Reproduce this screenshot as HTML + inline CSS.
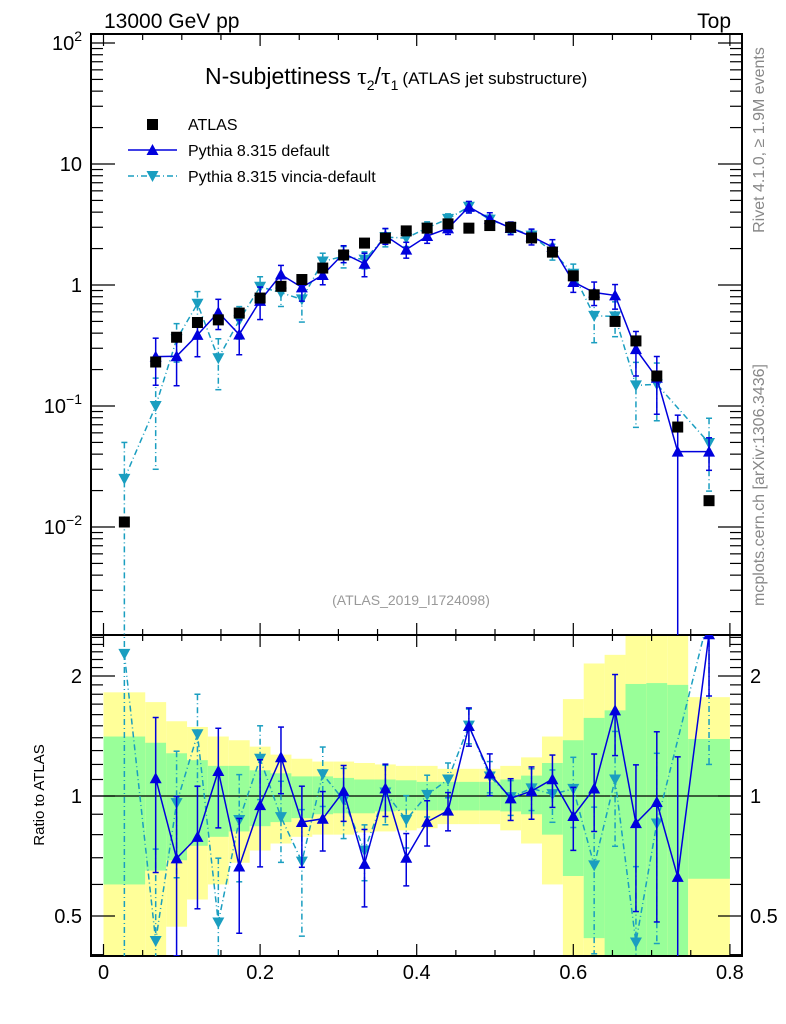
<!DOCTYPE html>
<html><head><meta charset="utf-8"><style>
html,body{margin:0;padding:0;background:#fff;width:786px;height:1024px;overflow:hidden}
svg{display:block;font-family:"Liberation Sans",sans-serif}
</style></head><body>
<svg id="c" width="786" height="1024" viewBox="0 0 786 1024" xmlns="http://www.w3.org/2000/svg">
<defs>
<clipPath id="cm"><rect x="91" y="34" width="651" height="601"/></clipPath>
<clipPath id="cr"><rect x="91" y="635" width="651" height="321"/></clipPath>
</defs>
<g id="bands" clip-path="url(#cr)"></g>
<g id="grid"></g>
<g id="mainMarks" clip-path="url(#cm)"></g>
<g id="ratioMarks" clip-path="url(#cr)"></g>
<text x="104" y="28" font-size="21">13000 GeV pp</text>
<text x="731" y="28" font-size="21" text-anchor="end">Top</text>
<text x="205" y="84" font-size="23">N-subjettiness <tspan font-family="Liberation Serif" font-size="24">τ</tspan><tspan font-size="14" dy="6">2</tspan><tspan dy="-6">/</tspan><tspan font-family="Liberation Serif" font-size="24">τ</tspan><tspan font-size="14" dy="6">1</tspan><tspan font-size="17" dy="-6" dx="4">(ATLAS jet substructure)</tspan></text>
<g>
<rect x="147" y="119" width="11" height="11" fill="#000"/>
<text x="188" y="130" font-size="16">ATLAS</text>
<line x1="128" y1="150" x2="177" y2="150" stroke="#0000dd" stroke-width="1.5"/>
<polygon points="146.5,155 152.5,144 158.5,155" fill="#0000dd"/>
<text x="188" y="156" font-size="16">Pythia 8.315 default</text>
<line x1="128" y1="176" x2="177" y2="176" stroke="#1a9ec0" stroke-width="1.5" stroke-dasharray="6,3,1,3"/>
<polygon points="146.5,171 158.5,171 152.5,182" fill="#1a9ec0"/>
<text x="188" y="182" font-size="16">Pythia 8.315 vincia-default</text>
</g>
<text x="411" y="605" font-size="14" fill="#999" text-anchor="middle">(ATLAS_2019_I1724098)</text>
<text transform="translate(764,140) rotate(-90)" font-size="16" fill="#888" text-anchor="middle">Rivet 4.1.0, ≥ 1.9M events</text>
<text transform="translate(764,485) rotate(-90)" font-size="16" fill="#888" text-anchor="middle">mcplots.cern.ch [arXiv:1306.3436]</text>
<text transform="translate(44,795) rotate(-90)" font-size="15" text-anchor="middle">Ratio to ATLAS</text>
</svg>
<script>
const edges=[0,0.0533,0.08,0.1067,0.1333,0.16,0.1867,0.2133,0.24,0.2667,0.2933,0.32,0.3467,0.3733,0.40,0.4267,0.4533,0.48,0.5067,0.5333,0.56,0.5867,0.6133,0.64,0.6667,0.6933,0.72,0.7467,0.80];
const atlas=[0.011,0.231,0.37,0.49,0.515,0.586,0.78,0.975,1.11,1.38,1.77,2.22,2.44,2.8,2.95,3.2,2.95,3.1,3.0,2.45,1.87,1.19,0.83,0.50,0.345,0.177,0.067,0.0165];
const pyDef=[null,0.256,0.258,0.387,0.595,0.39,0.74,1.22,0.955,1.21,1.82,1.50,2.55,1.96,2.54,2.94,4.42,3.53,2.96,2.52,2.06,1.06,0.867,0.82,0.295,0.171,0.042,0.042];
const pyDefErr=[0,0.42,0.43,0.34,0.28,0.32,0.3,0.19,0.23,0.17,0.16,0.22,0.15,0.15,0.13,0.11,0.11,0.12,0.12,0.15,0.15,0.18,0.22,0.23,0.40,0.5,1.0,0.3];
const pyVin=[0.025,0.10,0.355,0.70,0.248,0.51,0.967,0.863,0.76,1.565,1.73,1.62,2.49,2.44,2.97,3.52,4.43,3.47,2.98,2.56,1.89,1.24,0.556,0.55,0.148,0.151,null,0.0495];
const pyVinErr=[1.0,0.7,0.35,0.26,0.45,0.3,0.21,0.23,0.35,0.17,0.2,0.16,0.17,0.15,0.12,0.1,0.1,0.09,0.1,0.12,0.15,0.2,0.4,0.32,0.55,0.5,0,0.6];
const totHi=[1.82,1.72,1.54,1.49,1.41,1.38,1.33,1.27,1.24,1.22,1.22,1.21,1.20,1.19,1.19,1.17,1.17,1.17,1.19,1.25,1.41,1.75,2.15,2.26,3,3,3,1.77];
const totLo=[0.3,0.3,0.47,0.55,0.60,0.68,0.73,0.76,0.79,0.80,0.80,0.81,0.815,0.82,0.83,0.85,0.85,0.85,0.82,0.76,0.60,0.3,0.3,0.3,0.3,0.3,0.3,0.3];
const statHi=[1.41,1.36,1.28,1.23,1.19,1.19,1.16,1.14,1.12,1.12,1.11,1.10,1.10,1.095,1.085,1.085,1.085,1.085,1.10,1.125,1.21,1.38,1.57,1.64,1.91,1.92,1.9,1.39];
const statLo=[0.60,0.65,0.69,0.75,0.79,0.815,0.84,0.86,0.88,0.90,0.905,0.905,0.915,0.92,0.92,0.92,0.92,0.92,0.915,0.90,0.80,0.63,0.44,0.3,0.3,0.3,0.3,0.62];
const xTicks=[0,0.2,0.4,0.6,0.8];
const xTickLabels=["0","0.2","0.4","0.6","0.8"];
const yMainTicks=[2,1,0,-1,-2];
const yRatioTicks=[2,1,0.5];
const yRatioLabels=["2","1","0.5"];

const NS="http://www.w3.org/2000/svg";
const X0=103.5,XS=783;
const sx=v=>X0+v*XS;
const L=91,R=742,T=34,MB=635,RB=956;
const clampY=(y,a,b)=>Math.max(a,Math.min(b,y));
const syM=v=>clampY(285-121*Math.log10(v),T-20,MB+20);
const syR=v=>clampY(796-120*Math.log2(v),MB-20,RB+4);
function mk(tag,at,parent){const e=document.createElementNS(NS,tag);for(const k in at)e.setAttribute(k,at[k]);parent.appendChild(e);return e;}
const g=document.getElementById('grid'),bands=document.getElementById('bands'),mm=document.getElementById('mainMarks'),rm=document.getElementById('ratioMarks');

for(let i=0;i<atlas.length;i++){
 const x1=sx(edges[i]),x2=sx(edges[i+1]);
 const y=mk('rect',{x:x1,y:syR(totHi[i]),width:x2-x1,height:syR(totLo[i])-syR(totHi[i]),fill:'#ffff99'},bands);
 
 
 const gr=mk('rect',{x:x1,y:syR(statHi[i]),width:x2-x1,height:syR(statLo[i])-syR(statHi[i]),fill:'#99ff99'},bands);
 
 
}
mk('rect',{x:L,y:T,width:R-L,height:MB-T,fill:'none',stroke:'#000','stroke-width':2},g);
mk('rect',{x:L,y:MB,width:R-L,height:RB-MB,fill:'none',stroke:'#000','stroke-width':2},g);
mk('line',{x1:L,y1:796,x2:R,y2:796,stroke:'#000','stroke-width':1.3},g);
for(let v=0;v<=0.8001;v+=0.05){
 const x=sx(v),maj=Math.abs(v*10-Math.round(v*10))<1e-6&&Math.round(v*10)%2===0;
 const len=maj?12:6;
 [[T,1],[MB,-1],[MB,1],[RB,-1]].forEach(([y0,d])=>mk('line',{x1:x,y1:y0,x2:x,y2:y0+d*len,stroke:'#000','stroke-width':1.2},g));
}
xTicks.forEach((v,i)=>{const t=mk('text',{x:sx(v),y:979,'font-size':20,'text-anchor':'middle'},g);t.textContent=xTickLabels[i];
 
 });
for(let d=-3;d<=2;d++){for(let m=1;m<=9;m++){const v=m*Math.pow(10,d);const y=285-121*Math.log10(v);if(y<T||y>MB)continue;const len=m===1?24:12;
 mk('line',{x1:L,y1:y,x2:L+len,y2:y,stroke:'#000','stroke-width':1.2},g);mk('line',{x1:R,y1:y,x2:R-len,y2:y,stroke:'#000','stroke-width':1.2},g);}}
yMainTicks.forEach(p=>{const y=syM(Math.pow(10,p));let t;
 if(p===1||p===0){t=mk('text',{x:82,y:y+7,'font-size':20,'text-anchor':'end'},g);t.textContent=p===1?'10':'1';}
 else{t=mk('text',{x:82,y:y+7,'font-size':20,'text-anchor':'end'},g);const a=document.createElementNS(NS,'tspan');a.textContent='10';t.appendChild(a);const b=document.createElementNS(NS,'tspan');b.setAttribute('font-size','14');b.setAttribute('dy','-9');b.textContent=String(p).replace('-','−');t.appendChild(b);}
 
 });
const rmin=[0.4,0.5,0.6,0.7,0.8,0.9,1,1.1,1.2,1.3,1.4,1.5,1.6,1.7,1.8,1.9,2,2.1,2.2,2.3,2.4,2.5];
rmin.forEach(v=>{const y=796-120*Math.log2(v);if(y<MB||y>RB)return;const maj=(v===0.5||v===1||v===2);const len=maj?24:12;
 mk('line',{x1:L,y1:y,x2:L+len,y2:y,stroke:'#000','stroke-width':1.2},g);mk('line',{x1:R,y1:y,x2:R-len,y2:y,stroke:'#000','stroke-width':1.2},g);});
yRatioTicks.forEach((v,i)=>{const y=syR(v);
 const t=mk('text',{x:82,y:y+7,'font-size':20,'text-anchor':'end'},g);t.textContent=yRatioLabels[i];
 
 
 const t2=mk('text',{x:750,y:y+7,'font-size':20},g);t2.textContent=yRatioLabels[i];
 
 });

const cen=i=>(edges[i]+edges[i+1])/2;
function series(vals,errs,color,dash,up,parent,sy,ratio,name,bottom){
 let d='';
 const pts=[];
 for(let i=0;i<vals.length;i++){if(vals[i]==null)continue;let v=ratio?vals[i]/atlas[i]:vals[i];pts.push([sx(cen(i)),sy(v),v,errs[i]]);}
 pts.forEach((p,k)=>{d+=(k?'L':'M')+p[0].toFixed(1)+','+p[1].toFixed(1);});
 const pl=mk('path',{d:d,fill:'none',stroke:color,'stroke-width':1.5,'stroke-dasharray':dash},parent);
 
 
 pts.forEach(p=>{const [x,y,v,e]=p;
  if(e>0){const yt=sy(v*(1+e)),yb=v*(1-e)>1e-6?sy(v*(1-e)):bottom;
   const eb=mk('line',{x1:x,y1:yt,x2:x,y2:yb,stroke:color,'stroke-width':1.5,'stroke-dasharray':dash},parent);
   
   
   mk('line',{x1:x-3,y1:yt,x2:x+3,y2:yt,stroke:color,'stroke-width':1.5},parent);
   if(yb<bottom)mk('line',{x1:x-3,y1:yb,x2:x+3,y2:yb,stroke:color,'stroke-width':1.5},parent);}
  const pts2=up?`${x-6},${y+5} ${x},${y-6} ${x+6},${y+5}`:`${x-6},${y-5} ${x+6},${y-5} ${x},${y+6}`;
  const m=mk('polygon',{points:pts2,fill:color},parent);
  
  });
}
series(pyVin,pyVinErr,'#1a9ec0','6,3,1,3',false,mm,syM,false,'vincia',MB+20);
series(pyDef,pyDefErr,'#0000dd','none',true,mm,syM,false,'default',MB+20);
atlas.forEach((v,i)=>{const x=sx(cen(i)),y=syM(v);
 const r=mk('rect',{x:x-5.5,y:y-5.5,width:11,height:11,fill:'#000'},mm);
 
 });
series(pyVin,pyVinErr,'#1a9ec0','6,3,1,3',false,rm,syR,true,'vincia-ratio',RB+4);
series(pyDef,pyDefErr,'#0000dd','none',true,rm,syR,true,'default-ratio',RB+4);
</script>
</body></html>
